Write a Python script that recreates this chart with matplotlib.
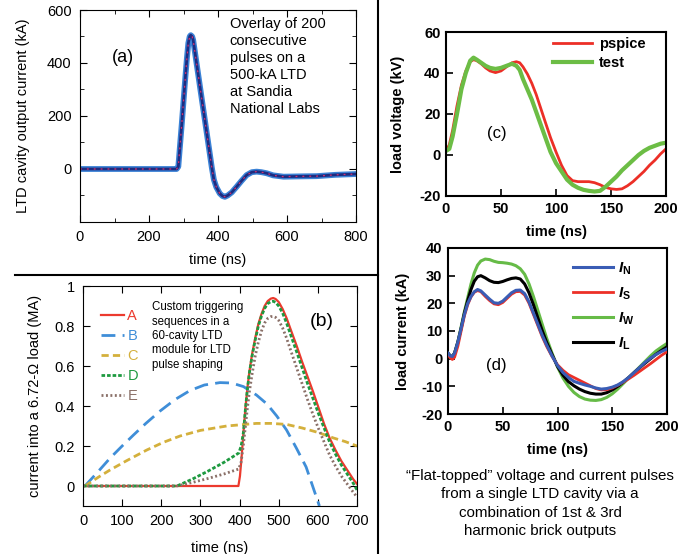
import numpy as np
import matplotlib
matplotlib.use('Agg')
import matplotlib.pyplot as plt
from matplotlib.lines import Line2D
from matplotlib.ticker import MultipleLocator

plt.rcParams['font.family'] = ['Liberation Sans', 'DejaVu Sans']
plt.rcParams['axes.unicode_minus'] = False
plt.rcParams['mathtext.fontset'] = 'custom'
plt.rcParams['mathtext.rm'] = 'Liberation Sans'
plt.rcParams['mathtext.it'] = 'Liberation Sans:italic'
plt.rcParams['mathtext.bf'] = 'Liberation Sans:bold'
plt.rcParams['mathtext.bfit'] = 'Liberation Sans:italic:bold'

# ---- (a) overlay of 200 pulses, mean trace (ns, kA)
a_time = [0, 280, 285, 290, 295, 300, 305, 310, 314, 318, 321, 325, 328, 342, 352, 362,
          372, 382, 388, 395, 405, 413, 420, 428, 440, 454, 468, 483, 498, 512, 526, 541,
          560, 590, 630, 686, 740, 800]
a_current = [0, 0, 9, 90, 170, 255, 340, 420, 475, 500, 505, 500, 487, 362, 273, 184,
             95, 6, -40, -68, -92, -102, -105, -100, -88, -67, -45, -23, -12, -10, -12, -16,
             -24, -29, -28, -27, -22, -19]

# ---- (b) pulse shaping sequences (ns, MA)
b_labels = ['A', 'B', 'C', 'D', 'E']
A_t = [0, 397, 401, 405, 410, 415, 420, 425, 432, 440, 448, 456, 464, 472, 480, 486, 492,
       500, 510, 520, 532, 546, 560, 574, 588, 602, 616, 630, 645, 660, 675, 690, 700]
A_v = [0, 0, 0.05, 0.14, 0.27, 0.39, 0.49, 0.57, 0.66, 0.74, 0.81, 0.86, 0.9, 0.925, 0.937,
       0.94, 0.935, 0.92, 0.885, 0.84, 0.775, 0.70, 0.62, 0.545, 0.47, 0.39, 0.31, 0.24,
       0.18, 0.125, 0.08, 0.035, 0.01]
B_t = [5, 40, 69, 100, 129, 160, 197, 235, 273, 310, 350, 380, 410, 443, 470, 495, 520,
       545, 570, 593, 604]
B_v = [0, 0.075, 0.139, 0.2, 0.255, 0.312, 0.375, 0.432, 0.477, 0.505, 0.517, 0.515, 0.497,
       0.455, 0.41, 0.35, 0.28, 0.19, 0.095, -0.037, -0.1]
C_t = [5, 40, 69, 110, 163, 205, 248, 300, 367, 443, 480, 520, 560, 600, 640, 670, 700]
C_v = [0, 0.045, 0.08, 0.125, 0.18, 0.218, 0.25, 0.278, 0.3, 0.313, 0.313, 0.308, 0.29,
       0.268, 0.24, 0.222, 0.2]
D_t = [0, 240, 280, 320, 360, 398, 404, 410, 415, 420, 425, 432, 440, 448, 456, 464, 472,
       480, 486, 492, 500, 510, 520, 532, 546, 560, 574, 588, 602, 616, 630, 645, 660, 675,
       690, 700]
D_v = [0, 0, 0.035, 0.075, 0.118, 0.165, 0.2, 0.27, 0.385, 0.485, 0.565, 0.65, 0.73, 0.8,
       0.85, 0.888, 0.912, 0.922, 0.924, 0.918, 0.9, 0.865, 0.815, 0.748, 0.67, 0.59, 0.51,
       0.435, 0.36, 0.29, 0.22, 0.16, 0.105, 0.06, 0.015, -0.02]
E_t = [0, 240, 280, 320, 360, 398, 404, 410, 415, 420, 425, 432, 440, 448, 456, 464, 472,
       480, 486, 492, 500, 510, 520, 532, 546, 560, 574, 588, 602, 616, 630, 645, 660, 675,
       690, 700]
E_v = [0, 0, 0.018, 0.038, 0.06, 0.085, 0.12, 0.21, 0.3, 0.39, 0.47, 0.56, 0.65, 0.72,
       0.775, 0.815, 0.838, 0.847, 0.848, 0.843, 0.828, 0.79, 0.74, 0.67, 0.59, 0.51, 0.43,
       0.355, 0.285, 0.22, 0.155, 0.1, 0.05, 0.01, -0.03, -0.055]

# ---- (c) load voltage (ns, kV)
c_time = [0, 3, 6, 10, 14, 18, 22, 25, 28, 32, 36, 40, 45, 50, 55, 60, 64, 67, 70, 74, 78,
          82, 86, 90, 95, 100, 105, 110, 115, 120, 125, 130, 135, 140, 145, 150, 155, 160,
          165, 170, 175, 180, 185, 190, 195, 200]
pspice = [2, 5, 12, 24, 34, 41, 45.5, 46.5, 46, 44.5, 42.5, 41, 40.2, 41, 43, 45, 45.5, 45,
          43, 39.5, 35, 29.5, 23, 16.5, 8.5, 1.5, -5, -10, -12.5, -13, -13, -13, -13.5,
          -14.5, -15.8, -16.5, -16.8, -16.5, -15, -13, -10.5, -8, -5, -2.5, 0.5, 3]
test = [2, 3, 9, 20, 32, 40, 46, 47.5, 46.5, 45, 43.5, 42.5, 42, 42.5, 43.5, 44.5, 43.5,
        41.5, 37, 32, 27, 21, 15, 9, 1.5, -4, -8, -12, -14.5, -16, -17, -17.5, -17.8,
        -17.5, -15.5, -13, -10.5, -7.5, -5, -2.5, 0, 2, 3.5, 4.5, 5.5, 6]

# ---- (d) load current (ns, kA)
d_time = [0, 2, 4, 6, 9, 12, 15, 18, 21, 24, 27, 30, 34, 38, 42, 46, 50, 54, 58, 62, 66,
          70, 74, 78, 82, 86, 90, 95, 100, 105, 110, 115, 120, 125, 130, 135, 140, 145, 150,
          155, 160, 165, 170, 175, 180, 185, 190, 195, 200]
I_N = [2, 1, 0.8, 2, 6, 11, 16, 20, 22.5, 24.2, 25, 24.5, 23, 21.5, 20.2, 20, 20.8, 22.3,
       23.8, 24.7, 24.8, 23.5, 20.5, 16.5, 12.5, 8.5, 5, 1, -2.5, -5, -6.8, -8.2, -8.9,
       -9.5, -10, -10.6, -11, -10.8, -10.3, -9.5, -8.3, -6.8, -5, -3.2, -1.3, 0.2, 1.5,
       2.6, 3.5]
I_S = [1.5, 0.3, -0.3, 0.5, 4.5, 10, 15.5, 19.5, 22.3, 24, 24.6, 24.2, 22.5, 21, 19.8,
       19.5, 20.3, 21.8, 23.3, 24.2, 24.3, 23, 20, 16, 12, 8, 4.5, 0.8, -2.2, -4.2, -5.8,
       -6.8, -7.8, -8.8, -9.8, -10.8, -11.3, -11.2, -10.6, -9.6, -8.5, -7.3, -6, -4.6,
       -3.2, -1.8, -0.3, 1.2, 2.5]
I_W = [2, 1, 0.8, 2, 6, 11.5, 17, 22, 27, 31, 33.8, 35.3, 36, 35.8, 35.2, 34.8, 34.7, 34.5,
       34.2, 33.6, 32.5, 30.5, 27, 22.5, 17.5, 12.5, 7.5, 2, -3, -7, -10, -12.2, -13.7,
       -14.6, -15, -15.1, -14.8, -14, -12.7, -11, -9, -7, -5, -3, -1, 1, 2.8, 4.2, 5.5]
I_L = [2, 1, 0.8, 2, 6, 11, 16.5, 21, 25, 28, 29.6, 30, 29.2, 28.2, 27.6, 27.5, 27.9, 28.5,
       29, 29.2, 28.8, 27, 23.8, 19.5, 14.8, 10.2, 6, 1.5, -2.8, -6, -8.3, -9.8, -11,
       -11.9, -12.5, -12.8, -12.8, -12.3, -11.3, -10, -8.5, -6.8, -5, -3.3, -1.6, 0, 1.6,
       3, 4.3]

W, H = 694, 554


def rect(left, top, right, bottom):
    return [left / W, 1 - bottom / H, (right - left) / W, (bottom - top) / H]


fig = plt.figure(figsize=(W / 100, H / 100), dpi=100)

# ----- panel (a)
ax = fig.add_axes(rect(80, 10, 356, 222))
ax.plot(a_time, a_current, color='#3b82d6', lw=4.2, solid_joinstyle='round')
ax.plot(a_time, a_current, color='#1d2c80', lw=2.0, solid_joinstyle='round')
ax.plot(a_time, a_current, color='#d8306e', lw=0.9, ls=(0, (1.5, 4)))
ax.set_xlim(0, 800)
ax.set_ylim(-200, 600)
ax.set_xticks([0, 200, 400, 600, 800])
ax.set_yticks([0, 200, 400, 600])
ax.xaxis.set_minor_locator(MultipleLocator(100))
ax.yaxis.set_minor_locator(MultipleLocator(100))
ax.tick_params(which='both', direction='in', top=True, right=True, labelsize=10.5, pad=6)
ax.tick_params(which='major', length=5)
ax.tick_params(which='minor', length=3)
ax.set_xlabel('time (ns)', fontsize=10.5, labelpad=6)
ax.set_ylabel('LTD cavity output current (kA)', fontsize=10.5, labelpad=12)
ax.text(0.155, 0.775, '(a)', transform=ax.transAxes, fontsize=13, ha='center', va='center')
ax.text(0.543, 0.965, 'Overlay of 200\nconsecutive\npulses on a\n500-kA LTD\nat Sandia\nNational Labs',
        transform=ax.transAxes, fontsize=10.5, ha='left', va='top', linespacing=1.27)

# ----- panel (b)
ax = fig.add_axes(rect(83, 286, 357, 506))
ax.plot(A_t, A_v, color='#ec3a2e', lw=1.6, label='A')
ax.plot(B_t, B_v, color='#3f8ed8', lw=2.0, ls=(0, (5, 2.6)), label='B')
ax.plot(C_t, C_v, color='#d4b03c', lw=2.0, ls=(0, (2.6, 1.5)), label='C')
ax.plot(D_t, D_v, color='#1e9a40', lw=2.0, ls=(0, (1.3, 0.7)), label='D')
ax.plot(E_t, E_v, color='#8a7068', lw=2.0, ls=(0, (0.7, 0.9)), label='E')
ax.set_xlim(0, 700)
ax.set_ylim(-0.1, 1.0)
ax.set_xticks(range(0, 701, 100))
ax.set_yticks([0, 0.2, 0.4, 0.6, 0.8, 1])
ax.set_yticklabels(['0', '0.2', '0.4', '0.6', '0.8', '1'])
ax.tick_params(direction='in', top=True, right=True, labelsize=10.5, length=5, pad=6)
ax.set_xlabel('time (ns)', fontsize=10.5, labelpad=9)
ax.set_ylabel('current into a 6.72-\u03a9 load (MA)', fontsize=10.5, labelpad=9)
leg = ax.legend(loc='upper left', bbox_to_anchor=(0.045, 0.922), frameon=False,
                fontsize=10.5, handlelength=1.6, handletextpad=0.2, labelspacing=0.42,
                borderaxespad=0)
for txt, ln in zip(leg.get_texts(), leg.get_lines()):
    txt.set_color(ln.get_color())
ax.text(0.252, 0.93, 'Custom triggering\nsequences in a\n60-cavity LTD\nmodule for LTD\npulse shaping',
        transform=ax.transAxes, fontsize=8.3, ha='left', va='top', linespacing=1.26)
ax.text(0.87, 0.84, '(b)', transform=ax.transAxes, fontsize=14, ha='center', va='center')

# ----- panel (c)
ax = fig.add_axes(rect(446, 32, 666, 196))
ax.plot(c_time, pspice, color='#ec2f27', lw=2.0, label='pspice')
ax.plot(c_time, test, color='#6cbd45', lw=3.0, label='test')
ax.set_xlim(0, 200)
ax.set_ylim(-20, 60)
ax.set_xticks([0, 50, 100, 150, 200])
ax.set_yticks([-20, 0, 20, 40, 60])
ax.tick_params(direction='in', labelsize=10.5, length=5, width=1.2, pad=4)
for s in ax.spines.values():
    s.set_linewidth(1.5)
plt.setp(ax.get_xticklabels() + ax.get_yticklabels(), fontweight='bold')
ax.set_xlabel('time (ns)', fontsize=10.5, fontweight='bold', labelpad=7)
ax.set_ylabel('load voltage (kV)', fontsize=10.5, fontweight='bold', labelpad=10)
leg = ax.legend(loc='upper right', bbox_to_anchor=(0.955, 1.03), frameon=False,
                prop={'size': 10.5, 'weight': 'bold'}, handlelength=2.7,
                handletextpad=0.5, labelspacing=0.3, borderaxespad=0.3)
ax.text(0.23, 0.38, '(c)', transform=ax.transAxes, fontsize=12, ha='center', va='center')

# ----- panel (d)
ax = fig.add_axes(rect(448, 248, 667, 414))
ax.plot(d_time, I_N, color='#3a5db5', lw=2.2, label=r'$\mathbfit{I}_{\mathbf{N}}$', zorder=4)
ax.plot(d_time, I_S, color='#ec3027', lw=2.0, label=r'$\mathbfit{I}_{\mathbf{S}}$', zorder=3)
ax.plot(d_time, I_W, color='#66bb47', lw=2.2, label=r'$\mathbfit{I}_{\mathbf{W}}$', zorder=2)
ax.plot(d_time, I_L, color='black', lw=2.2, label=r'$\mathbfit{I}_{\mathbf{L}}$', zorder=2)
ax.set_xlim(0, 200)
ax.set_ylim(-20, 40)
ax.set_xticks([0, 50, 100, 150, 200])
ax.set_yticks(range(-20, 41, 10))
ax.tick_params(direction='in', labelsize=10.5, length=5, width=1.2, pad=4)
for s in ax.spines.values():
    s.set_linewidth(1.5)
plt.setp(ax.get_xticklabels() + ax.get_yticklabels(), fontweight='bold')
ax.set_xlabel('time (ns)', fontsize=10.5, fontweight='bold', labelpad=7)
ax.set_ylabel('load current (kA)', fontsize=10.5, fontweight='bold', labelpad=8)
ax.legend(loc='upper right', bbox_to_anchor=(0.9, 0.99), frameon=False,
          fontsize=11, handlelength=2.6, handletextpad=0.35, labelspacing=0.56,
          borderaxespad=0.3)
ax.text(0.22, 0.295, '(d)', transform=ax.transAxes, fontsize=12, ha='center', va='center')

fig.text(540 / W, 1 - 469 / H,
         '\u201cFlat-topped\u201d voltage and current pulses\nfrom a single LTD cavity via a\n'
         'combination of 1st & 3rd\nharmonic brick outputs',
         ha='center', va='top', fontsize=10.9, linespacing=1.4)

# divider lines
fig.add_artist(Line2D([378 / W, 378 / W], [0, 1], color='black', lw=1.5))
fig.add_artist(Line2D([15 / W, 378 / W], [1 - 275 / H, 1 - 275 / H], color='black', lw=1.5))

fig.savefig('out.png', dpi=100)
